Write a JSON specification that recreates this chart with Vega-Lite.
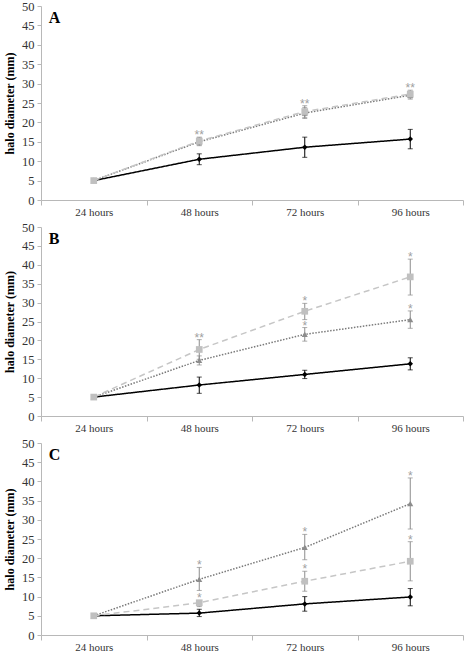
{
  "$schema": "https://vega.github.io/schema/vega-lite/v6.json",
  "padding": {"left": 3, "top": 0, "right": 5, "bottom": 5},
  "spacing": 27,
  "bounds": "flush",
  "background": "white",
  "config": {
    "view": {"stroke": null},
    "axis": {"grid": false, "domainColor": "#b8b8b8", "tickColor": "#b8b8b8", "labelFont": "Liberation Serif", "labelFontSize": 11, "labelColor": "#333333", "titleFont": "Liberation Serif", "labelOverlap": false},
    "axisY": {"tickCount": 10, "labelOverlap": false, "labelFontSize": 12.5, "tickSize": 4, "labelPadding": 3, "titlePadding": 5, "titleFontWeight": "bold", "titleFontSize": 12, "titleColor": "black"},
    "axisX": {"labelAngle": 0, "tickBand": "extent", "tickSize": 5, "labelPadding": 1}
  },
  "data": {"values": [
    {"panel": "A", "time": "24 hours", "series": "control", "value": 5},
    {"panel": "A", "time": "24 hours", "series": "triangle", "value": 5},
    {"panel": "A", "time": "24 hours", "series": "square", "value": 5},
    {"panel": "A", "time": "48 hours", "series": "control", "value": 10.5, "lo": 9.1, "hi": 11.9},
    {"panel": "A", "time": "48 hours", "series": "triangle", "value": 15.0, "lo": 14.0, "hi": 16.0},
    {"panel": "A", "time": "48 hours", "series": "square", "value": 15.2, "lo": 14.2, "hi": 16.2, "sig": "**"},
    {"panel": "A", "time": "72 hours", "series": "control", "value": 13.6, "lo": 11.0, "hi": 16.2},
    {"panel": "A", "time": "72 hours", "series": "triangle", "value": 22.4, "lo": 21.0, "hi": 23.8},
    {"panel": "A", "time": "72 hours", "series": "square", "value": 22.8, "lo": 21.3, "hi": 24.3, "sig": "**"},
    {"panel": "A", "time": "96 hours", "series": "control", "value": 15.7, "lo": 13.2, "hi": 18.2},
    {"panel": "A", "time": "96 hours", "series": "triangle", "value": 27.0, "lo": 26.0, "hi": 28.0},
    {"panel": "A", "time": "96 hours", "series": "square", "value": 27.3, "lo": 26.3, "hi": 28.3, "sig": "**"},
    {"panel": "B", "time": "24 hours", "series": "control", "value": 5},
    {"panel": "B", "time": "24 hours", "series": "triangle", "value": 5},
    {"panel": "B", "time": "24 hours", "series": "square", "value": 5},
    {"panel": "B", "time": "48 hours", "series": "control", "value": 8.2, "lo": 6.0, "hi": 10.3},
    {"panel": "B", "time": "48 hours", "series": "triangle", "value": 14.7, "lo": 13.5, "hi": 15.9},
    {"panel": "B", "time": "48 hours", "series": "square", "value": 17.6, "lo": 15.0, "hi": 20.2, "sig": "**"},
    {"panel": "B", "time": "72 hours", "series": "control", "value": 11.0, "lo": 9.9, "hi": 12.1},
    {"panel": "B", "time": "72 hours", "series": "triangle", "value": 21.6, "lo": 19.8, "hi": 23.4, "sig": "*"},
    {"panel": "B", "time": "72 hours", "series": "square", "value": 27.7, "lo": 25.5, "hi": 29.8, "sig": "*"},
    {"panel": "B", "time": "96 hours", "series": "control", "value": 13.8, "lo": 12.2, "hi": 15.4},
    {"panel": "B", "time": "96 hours", "series": "triangle", "value": 25.5, "lo": 23.2, "hi": 27.8, "sig": "*"},
    {"panel": "B", "time": "96 hours", "series": "square", "value": 36.8, "lo": 32.0, "hi": 41.5, "sig": "*"},
    {"panel": "C", "time": "24 hours", "series": "control", "value": 5},
    {"panel": "C", "time": "24 hours", "series": "triangle", "value": 5},
    {"panel": "C", "time": "24 hours", "series": "square", "value": 5},
    {"panel": "C", "time": "48 hours", "series": "control", "value": 5.7, "lo": 4.8, "hi": 6.7},
    {"panel": "C", "time": "48 hours", "series": "triangle", "value": 14.5, "lo": 11.6, "hi": 17.6, "sig": "*"},
    {"panel": "C", "time": "48 hours", "series": "square", "value": 8.4, "lo": 7.4, "hi": 9.0, "sig": "*"},
    {"panel": "C", "time": "72 hours", "series": "control", "value": 8.1, "lo": 6.2, "hi": 10.0},
    {"panel": "C", "time": "72 hours", "series": "triangle", "value": 22.8, "lo": 19.6, "hi": 26.2, "sig": "*"},
    {"panel": "C", "time": "72 hours", "series": "square", "value": 14.0, "lo": 11.4, "hi": 16.6, "sig": "*"},
    {"panel": "C", "time": "96 hours", "series": "control", "value": 9.9, "lo": 7.6, "hi": 12.1},
    {"panel": "C", "time": "96 hours", "series": "triangle", "value": 34.2, "lo": 27.6, "hi": 40.9, "sig": "*"},
    {"panel": "C", "time": "96 hours", "series": "square", "value": 19.2, "lo": 14.1, "hi": 24.3, "sig": "*"}
  ]},
  "vconcat": [
    {
      "width": 422, "height": 194,
      "transform": [{"filter": "datum.panel === 'A'"}],
      "encoding": {
        "x": {"field": "time", "type": "nominal", "sort": ["24 hours", "48 hours", "72 hours", "96 hours"], "bandPosition": 0.5, "scale": {"type": "band", "paddingInner": 0, "paddingOuter": 0}, "axis": {"title": null}}
      },
      "resolve": {"scale": {"color": "independent"}},
      "layer": [
        {"transform": [{"filter": "isValid(datum.lo)"}], "mark": {"type": "rule", "strokeWidth": 1},
         "encoding": {"y": {"field": "lo", "type": "quantitative", "scale": {"domain": [0, 50], "nice": false}, "title": "halo diameter (mm)"}, "y2": {"field": "hi"},
           "color": {"field": "series", "type": "nominal", "scale": {"domain": ["control", "triangle", "square"], "range": ["#000000", "#8c8c8c", "#8c8c8c"]}, "legend": null}}},
        {"transform": [{"filter": "isValid(datum.lo)"}], "mark": {"type": "tick", "orient": "horizontal", "size": 5, "thickness": 1},
         "encoding": {"y": {"field": "lo", "type": "quantitative", "title": "halo diameter (mm)"}, "color": {"field": "series", "type": "nominal", "scale": {"domain": ["control", "triangle", "square"], "range": ["#000000", "#8c8c8c", "#8c8c8c"]}, "legend": null}}},
        {"transform": [{"filter": "isValid(datum.hi)"}], "mark": {"type": "tick", "orient": "horizontal", "size": 5, "thickness": 1},
         "encoding": {"y": {"field": "hi", "type": "quantitative", "title": "halo diameter (mm)"}, "color": {"field": "series", "type": "nominal", "scale": {"domain": ["control", "triangle", "square"], "range": ["#000000", "#8c8c8c", "#8c8c8c"]}, "legend": null}}},
        {"mark": {"type": "line", "strokeWidth": 1.5},
         "encoding": {"y": {"field": "value", "type": "quantitative", "title": "halo diameter (mm)"}, "detail": {"field": "series"},
           "color": {"field": "series", "type": "nominal", "scale": {"domain": ["control", "triangle", "square"], "range": ["#000000", "#7a7a7a", "#c6c6c6"]}, "legend": null},
           "strokeDash": {"field": "series", "type": "nominal", "scale": {"domain": ["control", "triangle", "square"], "range": [[1, 0], [1.5, 1.5], [6, 4]]}, "legend": null},
           "strokeWidth": {"field": "series", "type": "nominal", "scale": {"domain": ["control", "triangle", "square"], "range": [1.8, 1.2, 1.5]}, "legend": null}}},
        {"mark": {"type": "point", "filled": true, "opacity": 1},
         "encoding": {"y": {"field": "value", "type": "quantitative", "title": "halo diameter (mm)"},
           "color": {"field": "series", "type": "nominal", "scale": {"domain": ["control", "triangle", "square"], "range": ["#000000", "#8c8c8c", "#c0c0c0"]}, "legend": null},
           "shape": {"field": "series", "type": "nominal", "scale": {"domain": ["control", "triangle", "square"], "range": ["diamond", "triangle-up", "square"]}, "legend": null},
           "size": {"field": "series", "type": "nominal", "scale": {"domain": ["control", "triangle", "square"], "range": [30, 45, 55]}, "legend": null}}},
        {"transform": [{"filter": "isValid(datum.sig)"}], "mark": {"type": "text", "font": "Liberation Sans", "fontSize": 12, "color": "#a0a0a0", "baseline": "alphabetic", "dy": 2},
         "encoding": {"y": {"field": "hi", "type": "quantitative", "title": "halo diameter (mm)"}, "text": {"field": "sig"}}},
        {"data": {"values": [{"label": "A"}]}, "mark": {"type": "text", "font": "Liberation Serif", "fontWeight": "bold", "fontSize": 16, "align": "left", "baseline": "middle", "color": "black", "dx": -45},
         "encoding": {"x": {"datum": "24 hours"}, "y": {"datum": 46.8}, "text": {"field": "label"}}}
      ]
    },
    {
      "width": 422, "height": 189,
      "transform": [{"filter": "datum.panel === 'B'"}],
      "encoding": {
        "x": {"field": "time", "type": "nominal", "sort": ["24 hours", "48 hours", "72 hours", "96 hours"], "bandPosition": 0.5, "scale": {"type": "band", "paddingInner": 0, "paddingOuter": 0}, "axis": {"title": null}}
      },
      "resolve": {"scale": {"color": "independent"}},
      "layer": [
        {"transform": [{"filter": "isValid(datum.lo)"}], "mark": {"type": "rule", "strokeWidth": 1},
         "encoding": {"y": {"field": "lo", "type": "quantitative", "scale": {"domain": [0, 50], "nice": false}, "title": "halo diameter (mm)"}, "y2": {"field": "hi"},
           "color": {"field": "series", "type": "nominal", "scale": {"domain": ["control", "triangle", "square"], "range": ["#000000", "#8c8c8c", "#8c8c8c"]}, "legend": null}}},
        {"transform": [{"filter": "isValid(datum.lo)"}], "mark": {"type": "tick", "orient": "horizontal", "size": 5, "thickness": 1},
         "encoding": {"y": {"field": "lo", "type": "quantitative", "title": "halo diameter (mm)"}, "color": {"field": "series", "type": "nominal", "scale": {"domain": ["control", "triangle", "square"], "range": ["#000000", "#8c8c8c", "#8c8c8c"]}, "legend": null}}},
        {"transform": [{"filter": "isValid(datum.hi)"}], "mark": {"type": "tick", "orient": "horizontal", "size": 5, "thickness": 1},
         "encoding": {"y": {"field": "hi", "type": "quantitative", "title": "halo diameter (mm)"}, "color": {"field": "series", "type": "nominal", "scale": {"domain": ["control", "triangle", "square"], "range": ["#000000", "#8c8c8c", "#8c8c8c"]}, "legend": null}}},
        {"mark": {"type": "line", "strokeWidth": 1.5},
         "encoding": {"y": {"field": "value", "type": "quantitative", "title": "halo diameter (mm)"}, "detail": {"field": "series"},
           "color": {"field": "series", "type": "nominal", "scale": {"domain": ["control", "triangle", "square"], "range": ["#000000", "#7a7a7a", "#c6c6c6"]}, "legend": null},
           "strokeDash": {"field": "series", "type": "nominal", "scale": {"domain": ["control", "triangle", "square"], "range": [[1, 0], [1.5, 1.5], [6, 4]]}, "legend": null},
           "strokeWidth": {"field": "series", "type": "nominal", "scale": {"domain": ["control", "triangle", "square"], "range": [1.8, 1.2, 1.5]}, "legend": null}}},
        {"mark": {"type": "point", "filled": true, "opacity": 1},
         "encoding": {"y": {"field": "value", "type": "quantitative", "title": "halo diameter (mm)"},
           "color": {"field": "series", "type": "nominal", "scale": {"domain": ["control", "triangle", "square"], "range": ["#000000", "#8c8c8c", "#c0c0c0"]}, "legend": null},
           "shape": {"field": "series", "type": "nominal", "scale": {"domain": ["control", "triangle", "square"], "range": ["diamond", "triangle-up", "square"]}, "legend": null},
           "size": {"field": "series", "type": "nominal", "scale": {"domain": ["control", "triangle", "square"], "range": [30, 45, 55]}, "legend": null}}},
        {"transform": [{"filter": "isValid(datum.sig)"}], "mark": {"type": "text", "font": "Liberation Sans", "fontSize": 12, "color": "#a0a0a0", "baseline": "alphabetic", "dy": 2},
         "encoding": {"y": {"field": "hi", "type": "quantitative", "title": "halo diameter (mm)"}, "text": {"field": "sig"}}},
        {"data": {"values": [{"label": "B"}]}, "mark": {"type": "text", "font": "Liberation Serif", "fontWeight": "bold", "fontSize": 16, "align": "left", "baseline": "middle", "color": "black", "dx": -45},
         "encoding": {"x": {"datum": "24 hours"}, "y": {"datum": 46.8}, "text": {"field": "label"}}}
      ]
    },
    {
      "width": 422, "height": 192,
      "transform": [{"filter": "datum.panel === 'C'"}],
      "encoding": {
        "x": {"field": "time", "type": "nominal", "sort": ["24 hours", "48 hours", "72 hours", "96 hours"], "bandPosition": 0.5, "scale": {"type": "band", "paddingInner": 0, "paddingOuter": 0}, "axis": {"title": null}}
      },
      "resolve": {"scale": {"color": "independent"}},
      "layer": [
        {"transform": [{"filter": "isValid(datum.lo)"}], "mark": {"type": "rule", "strokeWidth": 1},
         "encoding": {"y": {"field": "lo", "type": "quantitative", "scale": {"domain": [0, 50], "nice": false}, "title": "halo diameter (mm)"}, "y2": {"field": "hi"},
           "color": {"field": "series", "type": "nominal", "scale": {"domain": ["control", "triangle", "square"], "range": ["#000000", "#8c8c8c", "#8c8c8c"]}, "legend": null}}},
        {"transform": [{"filter": "isValid(datum.lo)"}], "mark": {"type": "tick", "orient": "horizontal", "size": 5, "thickness": 1},
         "encoding": {"y": {"field": "lo", "type": "quantitative", "title": "halo diameter (mm)"}, "color": {"field": "series", "type": "nominal", "scale": {"domain": ["control", "triangle", "square"], "range": ["#000000", "#8c8c8c", "#8c8c8c"]}, "legend": null}}},
        {"transform": [{"filter": "isValid(datum.hi)"}], "mark": {"type": "tick", "orient": "horizontal", "size": 5, "thickness": 1},
         "encoding": {"y": {"field": "hi", "type": "quantitative", "title": "halo diameter (mm)"}, "color": {"field": "series", "type": "nominal", "scale": {"domain": ["control", "triangle", "square"], "range": ["#000000", "#8c8c8c", "#8c8c8c"]}, "legend": null}}},
        {"mark": {"type": "line", "strokeWidth": 1.5},
         "encoding": {"y": {"field": "value", "type": "quantitative", "title": "halo diameter (mm)"}, "detail": {"field": "series"},
           "color": {"field": "series", "type": "nominal", "scale": {"domain": ["control", "triangle", "square"], "range": ["#000000", "#7a7a7a", "#c6c6c6"]}, "legend": null},
           "strokeDash": {"field": "series", "type": "nominal", "scale": {"domain": ["control", "triangle", "square"], "range": [[1, 0], [1.5, 1.5], [6, 4]]}, "legend": null},
           "strokeWidth": {"field": "series", "type": "nominal", "scale": {"domain": ["control", "triangle", "square"], "range": [1.8, 1.2, 1.5]}, "legend": null}}},
        {"mark": {"type": "point", "filled": true, "opacity": 1},
         "encoding": {"y": {"field": "value", "type": "quantitative", "title": "halo diameter (mm)"},
           "color": {"field": "series", "type": "nominal", "scale": {"domain": ["control", "triangle", "square"], "range": ["#000000", "#8c8c8c", "#c0c0c0"]}, "legend": null},
           "shape": {"field": "series", "type": "nominal", "scale": {"domain": ["control", "triangle", "square"], "range": ["diamond", "triangle-up", "square"]}, "legend": null},
           "size": {"field": "series", "type": "nominal", "scale": {"domain": ["control", "triangle", "square"], "range": [30, 45, 55]}, "legend": null}}},
        {"transform": [{"filter": "isValid(datum.sig)"}], "mark": {"type": "text", "font": "Liberation Sans", "fontSize": 12, "color": "#a0a0a0", "baseline": "alphabetic", "dy": 2},
         "encoding": {"y": {"field": "hi", "type": "quantitative", "title": "halo diameter (mm)"}, "text": {"field": "sig"}}},
        {"data": {"values": [{"label": "C"}]}, "mark": {"type": "text", "font": "Liberation Serif", "fontWeight": "bold", "fontSize": 16, "align": "left", "baseline": "middle", "color": "black", "dx": -45},
         "encoding": {"x": {"datum": "24 hours"}, "y": {"datum": 46.8}, "text": {"field": "label"}}}
      ]
    }
  ]
}
